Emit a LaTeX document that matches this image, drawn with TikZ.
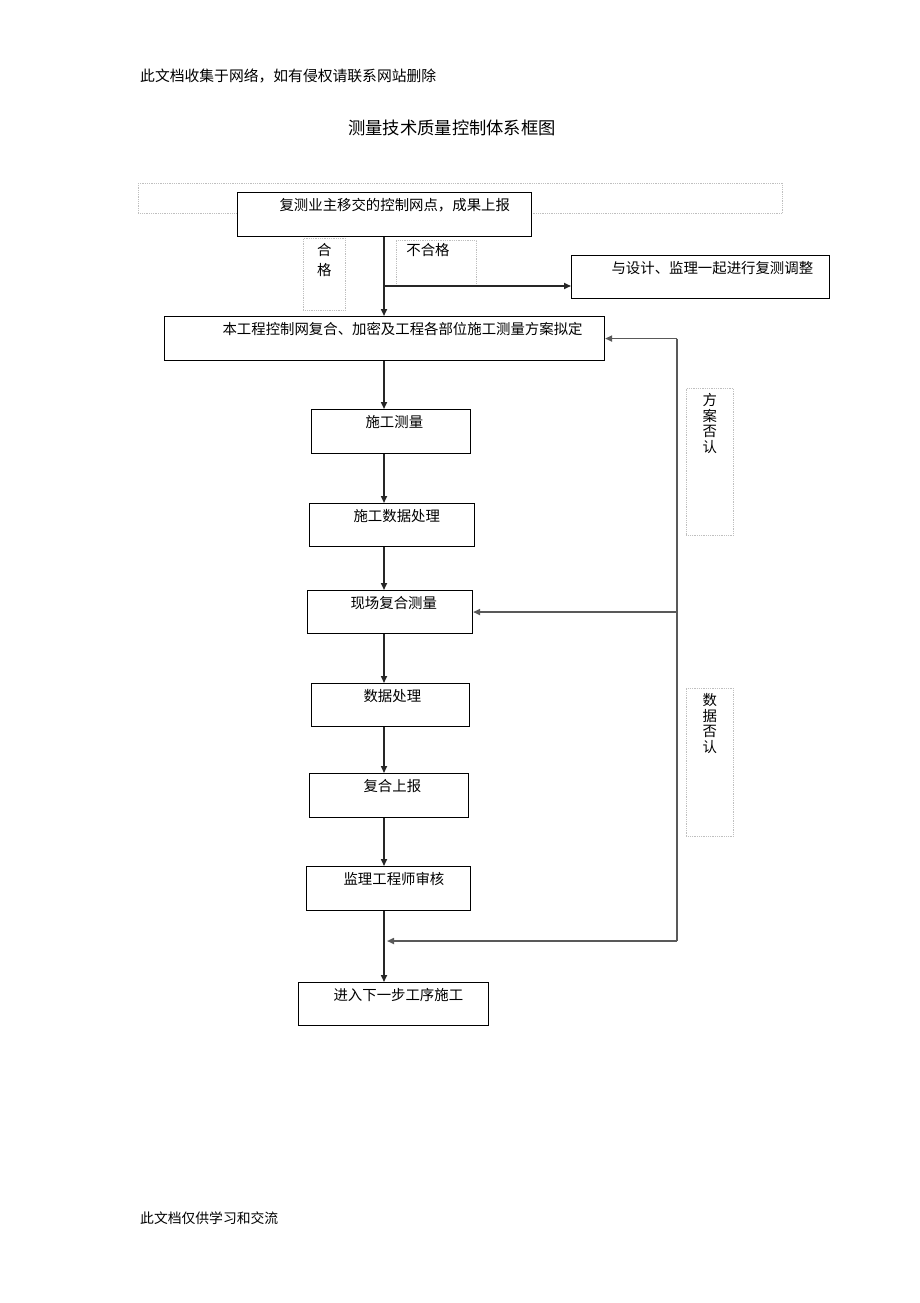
\documentclass[tikz,border=0pt]{standalone}
\usepackage{fontspec}
\newfontfamily\cjk{Noto Sans CJK SC}
\usetikzlibrary{arrows.meta}

\begin{document}
\begin{tikzpicture}[x=1pt,y=-1pt,>={Triangle[length=7pt,width=6pt]}]
        \tikzstyle{proc}=[rectangle,draw=black,line width=1.1pt,fill=white,anchor=north west,inner xsep=0pt,inner ysep=2pt,text height=15.5pt,text depth=24.5pt,align=left,font=\cjk\fontsize{14.4}{17}\selectfont]
        \tikzstyle{note}=[rectangle,draw=gray!50,densely dotted,line width=0.8pt,anchor=north west,inner xsep=0pt,inner ysep=2pt,text height=15.5pt,align=center,font=\cjk\fontsize{14.4}{15.5}\selectfont]
        \tikzstyle{flow}=[draw=black!85,line width=1.6pt,->]
        \tikzstyle{back}=[draw=black!65,line width=1.6pt]
        \fill[white] (0,0) rectangle (920,1303);
        \node[anchor=west,inner sep=0pt,font=\cjk\fontsize{14.8}{18}\selectfont] (head) at (140,76) {此文档收集于网络，如有侵权请联系网站删除};
        \node[inner sep=0pt,font=\cjk\fontsize{17.3}{20}\selectfont] (title) at (452,128) {测量技术质量控制体系框图};
        \node[anchor=west,inner sep=0pt,font=\cjk\fontsize{13.8}{17}\selectfont] (foot) at (140,1218) {此文档仅供学习和交流};
        \begin{scope}
        \node[note,text width=644pt,text height=0pt,text depth=26pt] (frame) at (138,183) {};
        \node[proc,text width=294pt] (b1) at (237,192) {\hspace*{42pt}复测业主移交的控制网点，成果上报};
        \node[note,text width=42pt,text depth=52.5pt,font=\cjk\fontsize{14.4}{20}\selectfont] (ok) at (303,238) {合\\格};
        \node[note,text width=80pt,text height=13.5pt,text depth=28.5pt,align=left] (ng) at (396,240) {\hspace*{10pt}不合格};
        \node[proc,text width=258pt,text depth=23.5pt] (adj) at (571,255) {\hspace*{40pt}与设计、监理一起进行复测调整};
        \node[proc,text width=440pt] (b2) at (164,316) {\hspace*{58pt}本工程控制网复合、加密及工程各部位施工测量方案拟定};
        \node[proc,text width=159pt] (b3) at (311,409) {\hspace*{54pt}施工测量};
        \node[proc,text width=165pt,text depth=23.5pt] (b4) at (309,503) {\hspace*{44pt}施工数据处理};
        \node[proc,text width=165pt,text depth=23.5pt] (b5) at (307,590) {\hspace*{43pt}现场复合测量};
        \node[proc,text width=158pt,text depth=23.5pt] (b6) at (311,683) {\hspace*{52pt}数据处理};
        \node[proc,text width=159pt] (b7) at (309,773) {\hspace*{54pt}复合上报};
        \node[proc,text width=164pt] (b8) at (306,866) {\hspace*{37pt}监理工程师审核};
        \node[proc,text width=190pt,text depth=23.5pt] (b9) at (298,982) {\hspace*{35pt}进入下一步工序施工};
        \node[note,text width=47pt,text depth=127.5pt] (fa) at (686,388) {方\\案\\否\\认};
        \node[note,text width=47pt,text depth=128.5pt] (sj) at (686,688) {数\\据\\否\\认};
        \end{scope}
        \coordinate (spine) at (384,0);
        \coordinate (split) at (384,286);
        \coordinate (fb) at (677,0);
        \coordinate (join) at (387,941);
        \draw[flow] (b1.south -| spine) -- (b2.north -| spine);
        \draw[flow] (split) -- (adj.west |- split);
        \draw[flow] (b2.south -| spine) -- (b3.north -| spine);
        \draw[flow] (b3.south -| spine) -- (b4.north -| spine);
        \draw[flow] (b4.south -| spine) -- (b5.north -| spine);
        \draw[flow] (b5.south -| spine) -- (b6.north -| spine);
        \draw[flow] (b6.south -| spine) -- (b7.north -| spine);
        \draw[flow] (b7.south -| spine) -- (b8.north -| spine);
        \draw[flow] (b8.south -| spine) -- (b9.north -| spine);
        \draw[back] (fb |- b2.east) -- (fb |- join);
        \draw[back,->] (fb |- b2.east) -- (b2.east);
        \draw[back,->] (fb |- b5.east) -- (b5.east);
        \draw[back,->] (fb |- join) -- (join);
\end{tikzpicture}
\end{document}
